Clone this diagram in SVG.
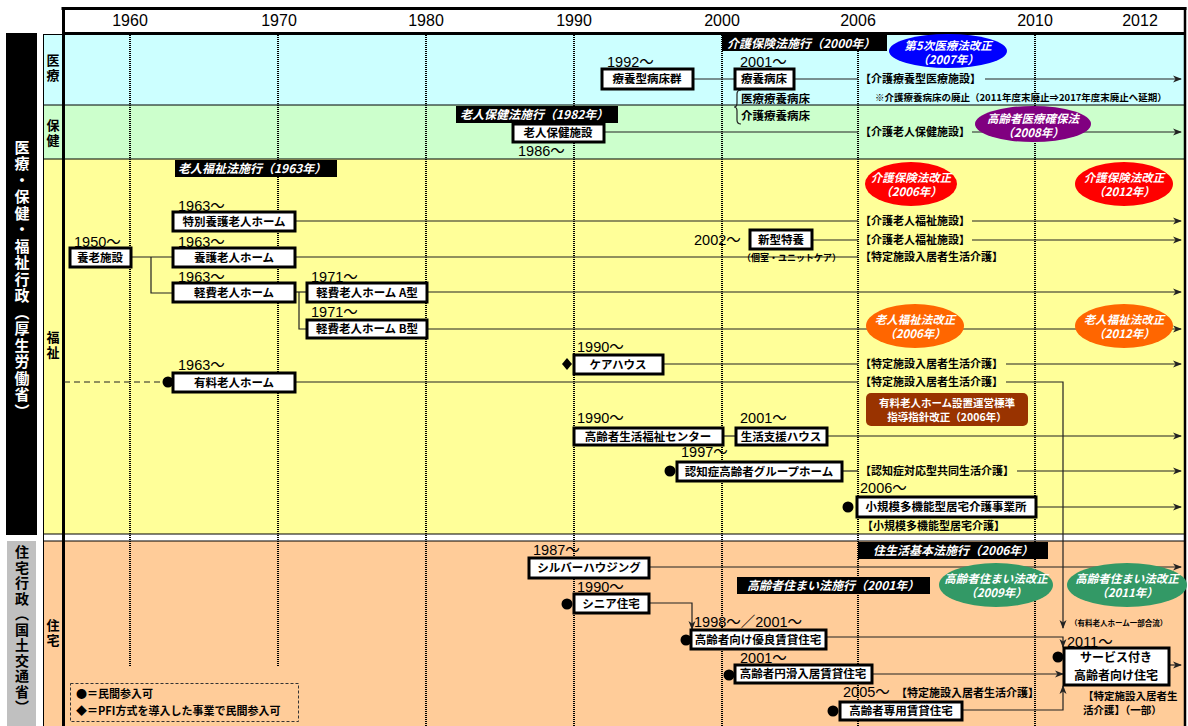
<svg xmlns="http://www.w3.org/2000/svg" width="1188" height="726" viewBox="0 0 1188 726">
<style>
.box{fill:#fff;stroke:#000;stroke-width:3}
.bt{font-family:"Noto Sans CJK JP","Liberation Sans",sans-serif;font-weight:bold;font-size:11.5px;text-anchor:middle;fill:#000}
.y{font-family:"Liberation Sans","Noto Sans CJK JP",sans-serif;font-size:14.5px;fill:#000}
.hy{font-family:"Liberation Sans","Noto Sans CJK JP",sans-serif;font-size:16px;fill:#000;text-anchor:middle}
.br{font-family:"Noto Sans CJK JP","Liberation Sans",sans-serif;font-weight:bold;font-size:11px;fill:#000}
.lb{font-family:"Noto Sans CJK JP","Liberation Sans",sans-serif;font-weight:bold;font-style:italic;font-size:12px;fill:#fff}
.el{font-family:"Noto Sans CJK JP","Liberation Sans",sans-serif;font-weight:bold;font-style:italic;font-size:11.5px;fill:#fff;text-anchor:middle}
.sub{font-family:"Noto Sans CJK JP",sans-serif;font-weight:bold;font-size:13px;fill:#000;text-anchor:middle;letter-spacing:2px}
.c{fill:none;stroke:#222;stroke-width:1.2}
.a{fill:none;stroke:#222;stroke-width:1.2;marker-end:url(#ah)}
.dot{fill:none;stroke:#000;stroke-width:2;stroke-dasharray:1 1}
.sep{stroke:#000;stroke-width:1}
</style>
<defs>
<marker id="ah" markerWidth="9" markerHeight="8" refX="8" refY="4" orient="auto" markerUnits="userSpaceOnUse"><path d="M0,0.5 L9,4 L0,7.5 L2.5,4 z" fill="#222"/></marker>
</defs>
<rect width="1188" height="726" fill="#fff"/>
<g id="bands">
<rect x="43" y="34" width="1142" height="71" fill="#CCFFFF"/>
<rect x="43" y="105" width="1142" height="54" fill="#CCFFCC"/>
<rect x="43" y="159" width="1142" height="375" fill="#FFFF99"/>
<rect x="43" y="541" width="1142" height="185" fill="#FFCC99"/>
<line class="sep" x1="43" y1="34.5" x2="63" y2="34.5"/>
<line class="sep" x1="43" y1="105" x2="1185" y2="105"/>
<line class="sep" x1="43" y1="159" x2="1185" y2="159"/>
<line class="sep" x1="43" y1="534" x2="1185" y2="534"/>
<line class="sep" x1="43" y1="541" x2="1185" y2="541"/>
<line class="sep" x1="43.5" y1="34" x2="43.5" y2="726"/>
<rect x="6" y="33" width="31" height="502" fill="#000"/>
<rect x="7" y="541" width="29" height="185" fill="#C0C0C0"/>
<text x="22" y="280" writing-mode="vertical-rl" text-anchor="middle" style="font-family:'Noto Sans CJK JP',sans-serif;font-weight:bold;font-size:15px;letter-spacing:1.5px" fill="#fff">医療・保健・福祉行政（厚生労働省）</text>
<text x="22" y="630" writing-mode="vertical-rl" text-anchor="middle" style="font-family:'Noto Sans CJK JP',sans-serif;font-weight:bold;font-size:14px;letter-spacing:1.5px" fill="#000">住宅行政（国土交通省）</text>
<text class="sub" x="53" y="69" writing-mode="vertical-rl">医療</text>
<text class="sub" x="53" y="134" writing-mode="vertical-rl">保健</text>
<text class="sub" x="53" y="346" writing-mode="vertical-rl">福祉</text>
<text class="sub" x="53" y="634" writing-mode="vertical-rl">住宅</text>
</g>
<g id="header">
<rect x="63" y="8.5" width="1122" height="25" fill="#fff"/>
<line x1="61.5" y1="8.5" x2="1186.5" y2="8.5" stroke="#000" stroke-width="3"/>
<line x1="63" y1="33.5" x2="1185" y2="33.5" stroke="#000" stroke-width="3"/>
<line x1="63.5" y1="7" x2="63.5" y2="726" stroke="#000" stroke-width="3"/>
<line x1="1185" y1="7" x2="1185" y2="726" stroke="#000" stroke-width="2.5"/>
<text class="hy" x="130" y="26">1960</text>
<text class="hy" x="279" y="26">1970</text>
<text class="hy" x="426" y="26">1980</text>
<text class="hy" x="574" y="26">1990</text>
<text class="hy" x="722" y="26">2000</text>
<text class="hy" x="858" y="26">2006</text>
<text class="hy" x="1035" y="26">2010</text>
<text class="hy" x="1140" y="26">2012</text>
</g>
<g id="gridlines">
<line class="dot" x1="130" y1="35" x2="130" y2="667"/>
<line class="dot" x1="278" y1="35" x2="278" y2="667"/>
<line class="dot" x1="426" y1="35" x2="426" y2="726"/>
<line class="dot" x1="574" y1="35" x2="574" y2="726"/>
<line class="dot" x1="722" y1="35" x2="722" y2="726"/>
<line class="dot" x1="858" y1="35" x2="858" y2="726"/>
<line class="dot" x1="1035" y1="35" x2="1035" y2="726"/>
</g>
<g id="connectors">
<line class="c" x1="693" y1="79" x2="735" y2="79"/>
<line class="c" x1="794" y1="79" x2="858" y2="79"/>
<line class="a" x1="985" y1="79" x2="1181" y2="79"/>
<path class="c" d="M741,90 Q737,90 737,94 L737,103 Q737,107 734,107 Q737,107 737,111 L737,120 Q737,124 741,124" stroke="#555"/>
<line class="c" x1="604" y1="132" x2="858" y2="132"/>
<line class="a" x1="972" y1="132" x2="1181" y2="132"/>
<line class="c" x1="295" y1="221" x2="858" y2="221"/>
<line class="a" x1="972" y1="221" x2="1181" y2="221"/>
<line class="c" x1="812" y1="240" x2="858" y2="240"/>
<line class="a" x1="972" y1="240" x2="1181" y2="240"/>
<line class="c" x1="131" y1="257" x2="173" y2="257"/>
<path class="c" d="M151,257 V293 H173"/>
<line class="c" x1="295" y1="257" x2="858" y2="257"/>
<line class="c" x1="295" y1="292" x2="307" y2="292"/>
<path class="c" d="M299,292 V329 H307"/>
<line class="a" x1="427" y1="292" x2="1181" y2="292"/>
<line class="a" x1="427" y1="329" x2="1181" y2="329"/>
<line class="c" x1="663" y1="364" x2="858" y2="364"/>
<line class="a" x1="1006" y1="364" x2="1181" y2="364"/>
<line class="c" x1="64" y1="382" x2="164" y2="382" stroke-dasharray="6 4" stroke="#555"/>
<line class="c" x1="295" y1="382" x2="858" y2="382"/>
<path class="a" d="M1006,382 H1063 V628"/>
<line class="c" x1="723" y1="436" x2="736" y2="436"/>
<line class="a" x1="827" y1="436" x2="1181" y2="436"/>
<line class="c" x1="842" y1="471" x2="858" y2="471"/>
<line class="a" x1="1017" y1="471" x2="1181" y2="471"/>
<line class="a" x1="1036" y1="507" x2="1181" y2="507"/>
<line class="a" x1="649" y1="567" x2="1181" y2="567"/>
<path class="a" d="M649,603 H692 V629"/>
<path class="a" d="M826,637 H1063 V647"/>
<line class="a" x1="872" y1="674" x2="1063" y2="674"/>
<path class="a" d="M962,710 H1063 V686"/>
<line class="a" x1="1169" y1="665" x2="1181" y2="665"/>
</g>
<g id="law-2000"><rect x="722" y="35" width="165" height="16" fill="#000"/><text class="lb" x="727" y="48">介護保険法施行（2000年）</text></g>
<g id="law-1982"><rect x="456" y="106" width="162" height="17" fill="#000"/><text class="lb" x="460" y="119">老人保健法施行（1982年）</text></g>
<g id="law-1963"><rect x="175" y="160" width="162" height="17" fill="#000"/><text class="lb" x="178" y="173">老人福祉法施行（1963年）</text></g>
<g id="law-2006"><rect x="858" y="542" width="190" height="17" fill="#000"/><text class="lb" x="873" y="555">住生活基本法施行（2006年）</text></g>
<g id="law-2001"><rect x="737" y="577" width="193" height="17" fill="#000"/><text class="lb" x="747" y="590">高齢者住まい法施行（2001年）</text></g>
<g id="e-iryo2007"><ellipse cx="948" cy="51" rx="59" ry="17" fill="#0000FF"/><text class="el" x="948" y="50">第5次医療法改正</text><text class="el" x="948" y="64">（2007年）</text></g>
<g id="e-kakuho2008"><ellipse cx="1033" cy="124" rx="58" ry="18" fill="#800080"/><text class="el" x="1033" y="123">高齢者医療確保法</text><text class="el" x="1033" y="137">（2008年）</text></g>
<g id="e-kaigo2006"><ellipse cx="911" cy="184" rx="46" ry="22" fill="#FF0000"/><text class="el" x="911" y="182">介護保険法改正</text><text class="el" x="911" y="196">（2006年）</text></g>
<g id="e-kaigo2012"><ellipse cx="1124" cy="184" rx="49" ry="22" fill="#FF0000"/><text class="el" x="1124" y="182">介護保険法改正</text><text class="el" x="1124" y="196">（2012年）</text></g>
<g id="e-fukushi2006"><ellipse cx="915" cy="326" rx="49" ry="22" fill="#FF6600"/><text class="el" x="915" y="324">老人福祉法改正</text><text class="el" x="915" y="338">（2006年）</text></g>
<g id="e-fukushi2012"><ellipse cx="1124" cy="326" rx="49" ry="22" fill="#FF6600"/><text class="el" x="1124" y="324">老人福祉法改正</text><text class="el" x="1124" y="338">（2012年）</text></g>
<g id="e-sumai2009"><ellipse cx="996" cy="585" rx="57" ry="22" fill="#339966"/><text class="el" x="996" y="583">高齢者住まい法改正</text><text class="el" x="996" y="597">（2009年）</text></g>
<g id="e-sumai2011"><ellipse cx="1127" cy="585" rx="60" ry="22" fill="#339966"/><text class="el" x="1127" y="583">高齢者住まい法改正</text><text class="el" x="1127" y="597">（2011年）</text></g>
<g id="shishin"><rect x="866" y="393" width="162" height="33" rx="5" fill="#993300"/><text class="bt" x="947" y="407" style="fill:#fff;font-size:10.5px">有料老人ホーム設置運営標準</text><text class="bt" x="947" y="421" style="fill:#fff;font-size:10.5px">指導指針改正（2006年）</text></g>
<g id="service-labels">
<text class="br" x="860" y="83">【介護療養型医療施設】</text>
<text class="br" x="860" y="136">【介護老人保健施設】</text>
<text class="br" x="860" y="225">【介護老人福祉施設】</text>
<text class="br" x="860" y="244">【介護老人福祉施設】</text>
<text class="br" x="860" y="261">【特定施設入居者生活介護】</text>
<text class="br" x="860" y="368">【特定施設入居者生活介護】</text>
<text class="br" x="860" y="386">【特定施設入居者生活介護】</text>
<text class="br" x="860" y="475">【認知症対応型共同生活介護】</text>
<text class="br" x="862" y="530">【小規模多機能型居宅介護】</text>
<text class="br" x="875" y="101" style="font-size:9.5px">※介護療養病床の廃止（2011年度末廃止⇒2017年度末廃止へ延期）</text>
<text class="br" x="741" y="103" style="font-size:11.5px">医療療養病床</text>
<text class="br" x="741" y="120" style="font-size:11.5px">介護療養病床</text>
<text class="br" x="742" y="261" style="font-size:9px">（個室・ユニットケア）</text>
<text class="br" x="1070" y="626" style="font-size:7.5px">（有料老人ホーム一部合流）</text>
<text class="br" x="896" y="697">【特定施設入居者生活介護】</text>
<text class="br" x="1083" y="700" style="font-size:10.5px">【特定施設入居者生</text>
<text class="br" x="1083" y="714" style="font-size:10.5px">活介護】（一部）</text>
</g>
<g id="n-ryoyogata"><text class="y" x="607" y="67">1992～</text><rect class="box" x="602" y="69" width="91" height="20"/><text class="bt" x="647" y="83">療養型病床群</text></g>
<g id="n-ryoyobyosho"><text class="y" x="740" y="67">2001～</text><rect class="box" x="735" y="69" width="59" height="20"/><text class="bt" x="764" y="83">療養病床</text></g>
<g id="n-rojinhoken"><rect class="box" x="513" y="124" width="91" height="18"/><text class="bt" x="558" y="137">老人保健施設</text><text class="y" x="518" y="156">1986～</text></g>
<g id="n-tokuyo"><text class="y" x="178" y="211">1963～</text><rect class="box" x="173" y="212" width="122" height="19"/><text class="bt" x="234" y="226">特別養護老人ホーム</text></g>
<g id="n-yoro"><text class="y" x="74" y="247">1950～</text><rect class="box" x="70" y="248" width="61" height="19"/><text class="bt" x="100" y="262">養老施設</text></g>
<g id="n-yogo"><text class="y" x="178" y="247">1963～</text><rect class="box" x="173" y="248" width="122" height="19"/><text class="bt" x="234" y="262">養護老人ホーム</text></g>
<g id="n-shingata"><text class="y" x="694" y="245">2002～</text><rect class="box" x="750" y="230" width="62" height="19"/><text class="bt" x="781" y="244">新型特養</text></g>
<g id="n-keihi"><text class="y" x="178" y="282">1963～</text><rect class="box" x="173" y="283" width="122" height="19"/><text class="bt" x="234" y="297">軽費老人ホーム</text></g>
<g id="n-keihiA"><text class="y" x="311" y="282">1971～</text><rect class="box" x="307" y="283" width="120" height="19"/><text class="bt" x="367" y="297">軽費老人ホーム A型</text></g>
<g id="n-keihiB"><text class="y" x="311" y="317">1971～</text><rect class="box" x="307" y="320" width="120" height="18"/><text class="bt" x="367" y="333">軽費老人ホーム B型</text></g>
<g id="n-carehouse"><text class="y" x="577" y="352">1990～</text><path d="M567,358 L572,364 L567,370 L562,364 z" fill="#000"/><rect class="box" x="574" y="355" width="89" height="19"/><text class="bt" x="618" y="369">ケアハウス</text></g>
<g id="n-yuryo"><text class="y" x="178" y="370">1963～</text><circle cx="168" cy="382" r="5.5" fill="#000"/><rect class="box" x="173" y="373" width="122" height="19"/><text class="bt" x="234" y="387">有料老人ホーム</text></g>
<g id="n-seikatsufukushi"><text class="y" x="577" y="423">1990～</text><rect class="box" x="574" y="428" width="149" height="17"/><text class="bt" x="648" y="441">高齢者生活福祉センター</text></g>
<g id="n-seikatsushien"><text class="y" x="740" y="423">2001～</text><rect class="box" x="736" y="428" width="91" height="17"/><text class="bt" x="781" y="441">生活支援ハウス</text></g>
<g id="n-gh"><text class="y" x="681" y="457">1997～</text><circle cx="670" cy="471" r="5.5" fill="#000"/><rect class="box" x="677" y="462" width="165" height="19"/><text class="bt" x="759" y="476">認知症高齢者グループホーム</text></g>
<g id="n-shokibo"><text class="y" x="860" y="493">2006～</text><circle cx="848" cy="507" r="5.5" fill="#000"/><rect class="box" x="857" y="497" width="179" height="20"/><text class="bt" x="946" y="511">小規模多機能型居宅介護事業所</text></g>
<g id="n-silver"><text class="y" x="533" y="555">1987～</text><rect class="box" x="529" y="558" width="120" height="20"/><text class="bt" x="589" y="572">シルバーハウジング</text></g>
<g id="n-senior"><text class="y" x="577" y="592">1990～</text><circle cx="567" cy="604" r="5.5" fill="#000"/><rect class="box" x="574" y="594" width="75" height="19"/><text class="bt" x="611" y="608">シニア住宅</text></g>
<g id="n-yuryochintai"><text class="y" x="694" y="627">1998～／2001～</text><circle cx="686" cy="640" r="5.5" fill="#000"/><rect class="box" x="691" y="630" width="135" height="19"/><text class="bt" x="758" y="644">高齢者向け優良賃貸住宅</text></g>
<g id="n-enkatsu"><text class="y" x="740" y="663">2001～</text><circle cx="729" cy="675" r="5.5" fill="#000"/><rect class="box" x="735" y="665" width="137" height="18"/><text class="bt" x="803" y="678">高齢者円滑入居賃貸住宅</text></g>
<g id="n-senyo"><text class="y" x="843" y="697">2005～</text><circle cx="833" cy="711" r="5.5" fill="#000"/><rect class="box" x="840" y="702" width="122" height="18"/><text class="bt" x="901" y="715">高齢者専用賃貸住宅</text></g>
<g id="n-sakoju"><text class="y" x="1067" y="647">2011～</text><circle cx="1058" cy="657" r="5.5" fill="#000"/><rect class="box" x="1064" y="648" width="105" height="37"/><text class="bt" x="1116" y="662" style="font-size:12px">サービス付き</text><text class="bt" x="1116" y="680" style="font-size:12px">高齢者向け住宅</text></g>
<g id="legend"><rect x="70.5" y="683.5" width="228" height="38" fill="none" stroke="#333" stroke-dasharray="3 2"/><text class="br" x="76" y="698">●＝民間参入可</text><text class="br" x="76" y="715">◆＝PFI方式を導入した事業で民間参入可</text></g>
</svg>
